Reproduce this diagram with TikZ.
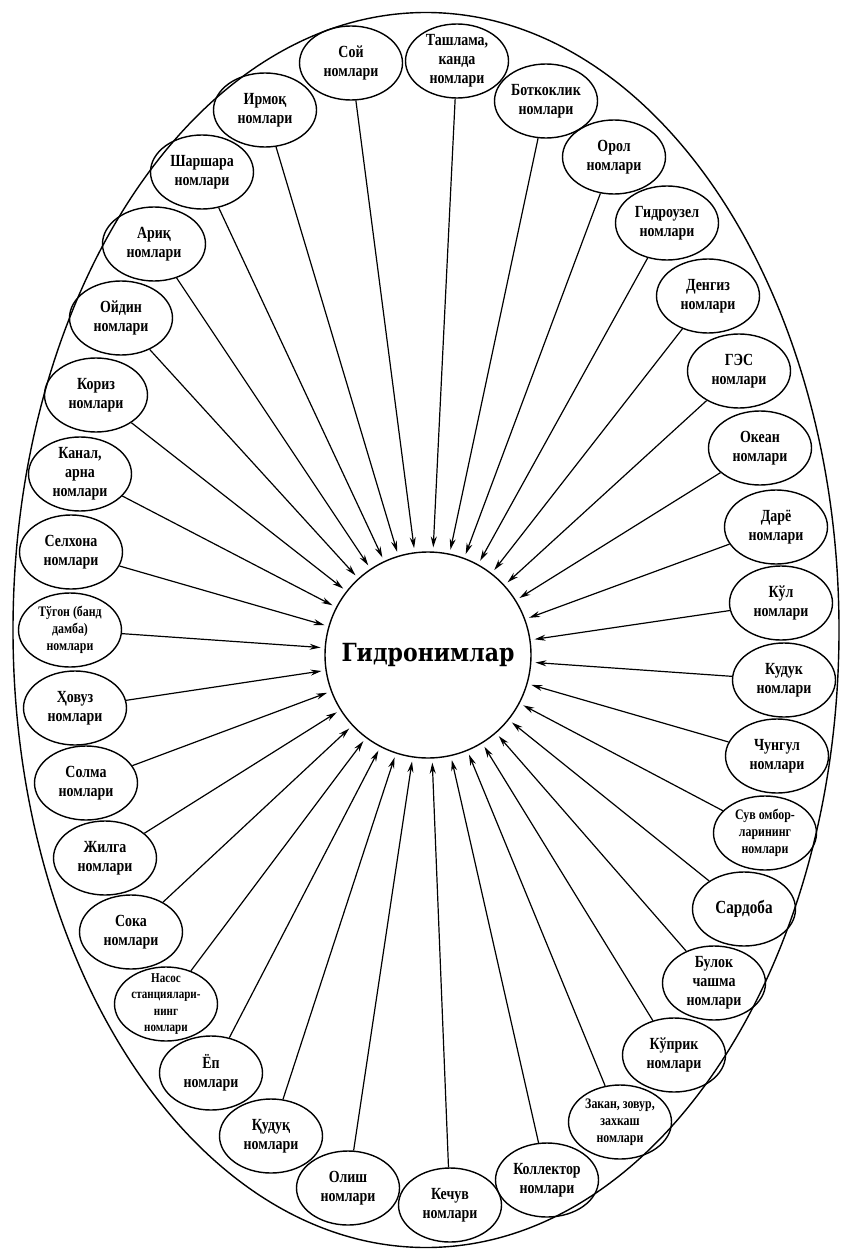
\documentclass[tikz,border=0pt]{standalone}
\usepackage{fontspec}
\setmainfont{Liberation Serif}[FakeStretch=0.82]
\newfontfamily\hubfont{DejaVu Serif}[FakeStretch=0.88]
\usetikzlibrary{shapes.geometric,arrows.meta}
\begin{document}
\begin{tikzpicture}[x=1pt,y=-1pt,
  item/.style={ellipse,draw,line width=1.4pt,minimum width=103pt,minimum height=74pt,inner xsep=-9pt,inner ysep=-5pt,align=center,font=\fontsize{17}{19}\selectfont\bfseries},
  small/.style={font=\fontsize{14.5}{17}\selectfont\bfseries},
  hubnode/.style={circle,draw,line width=1.4pt,minimum size=206pt,inner sep=0pt,font=\hubfont\fontsize{25}{28}\selectfont\bfseries},
  link/.style={line width=1.2pt,-{Stealth[length=11pt,width=6pt]},shorten >=4pt},
  frame/.style={ellipse,draw,line width=1.4pt,minimum width=826pt,minimum height=1235pt,inner sep=0pt}]
\fill[white] (0,0) rectangle (843,1249);
\useasboundingbox (0,0) rectangle (843,1249);
\node[frame] (outer) at (426,630) {};
\node[hubnode] (hub) at (428,655) {Гидронимлар};
\node[item] (n1) at (351,63) {Сой\\номлари};
\node[item] (n2) at (457,61) {Ташлама,\\канда\\номлари};
\node[item] (n3) at (546,101) {Боткоклик\\номлари};
\node[item] (n4) at (614,157) {Орол\\номлари};
\node[item] (n5) at (667,223) {Гидроузел\\номлари};
\node[item] (n6) at (708,296) {Денгиз\\номлари};
\node[item] (n7) at (739,371) {ГЭС\\номлари};
\node[item] (n8) at (760,448) {Океан\\номлари};
\node[item] (n9) at (776,527) {Дарё\\номлари};
\node[item] (n10) at (781,603) {Кўл\\номлари};
\node[item] (n11) at (784,680) {Кудук\\номлари};
\node[item] (n12) at (777,756) {Чунгул\\номлари};
\node[item,small] (n13) at (765,833) {Сув омбор-\\ларининг\\номлари};
\node[item,font=\fontsize{18.5}{20}\selectfont\bfseries] (n14) at (744,909) {Сардоба};
\node[item] (n15) at (714,983) {Булок\\чашма\\номлари};
\node[item] (n16) at (674,1055) {Кўприк\\номлари};
\node[item,small] (n17) at (620,1122) {Закан, зовур,\\захкаш\\номлари};
\node[item] (n18) at (547,1180) {Коллектор\\номлари};
\node[item] (n19) at (450,1205) {Кечув\\номлари};
\node[item] (n20) at (348,1188) {Олиш\\номлари};
\node[item] (n21) at (271,1136) {Қудуқ\\номлари};
\node[item] (n22) at (211,1073) {Ёп\\номлари};
\node[item,font=\fontsize{13.5}{16.5}\selectfont\bfseries] (n23) at (166,1004) {Насос\\станциялари-\\нинг\\номлари};
\node[item] (n24) at (131,932) {Сока\\номлари};
\node[item] (n25) at (105,858) {Жилга\\номлари};
\node[item] (n26) at (86,783) {Солма\\номлари};
\node[item] (n27) at (75,708) {Ҳовуз\\номлари};
\node[item,small] (n28) at (70,630) {Тўгон (банд\\дамба)\\номлари};
\node[item] (n29) at (71,552) {Селхона\\номлари};
\node[item] (n30) at (80,474) {Канал,\\арна\\номлари};
\node[item] (n31) at (96,395) {Кориз\\номлари};
\node[item] (n32) at (121,318) {Ойдин\\номлари};
\node[item] (n33) at (154,244) {Ариқ\\номлари};
\node[item] (n34) at (202,172) {Шаршара\\номлари};
\node[item] (n35) at (265,110) {Ирмоқ\\номлари};
\foreach \i in {1,...,35}{\draw[link] (n\i) -- (hub);}
\end{tikzpicture}
\end{document}
